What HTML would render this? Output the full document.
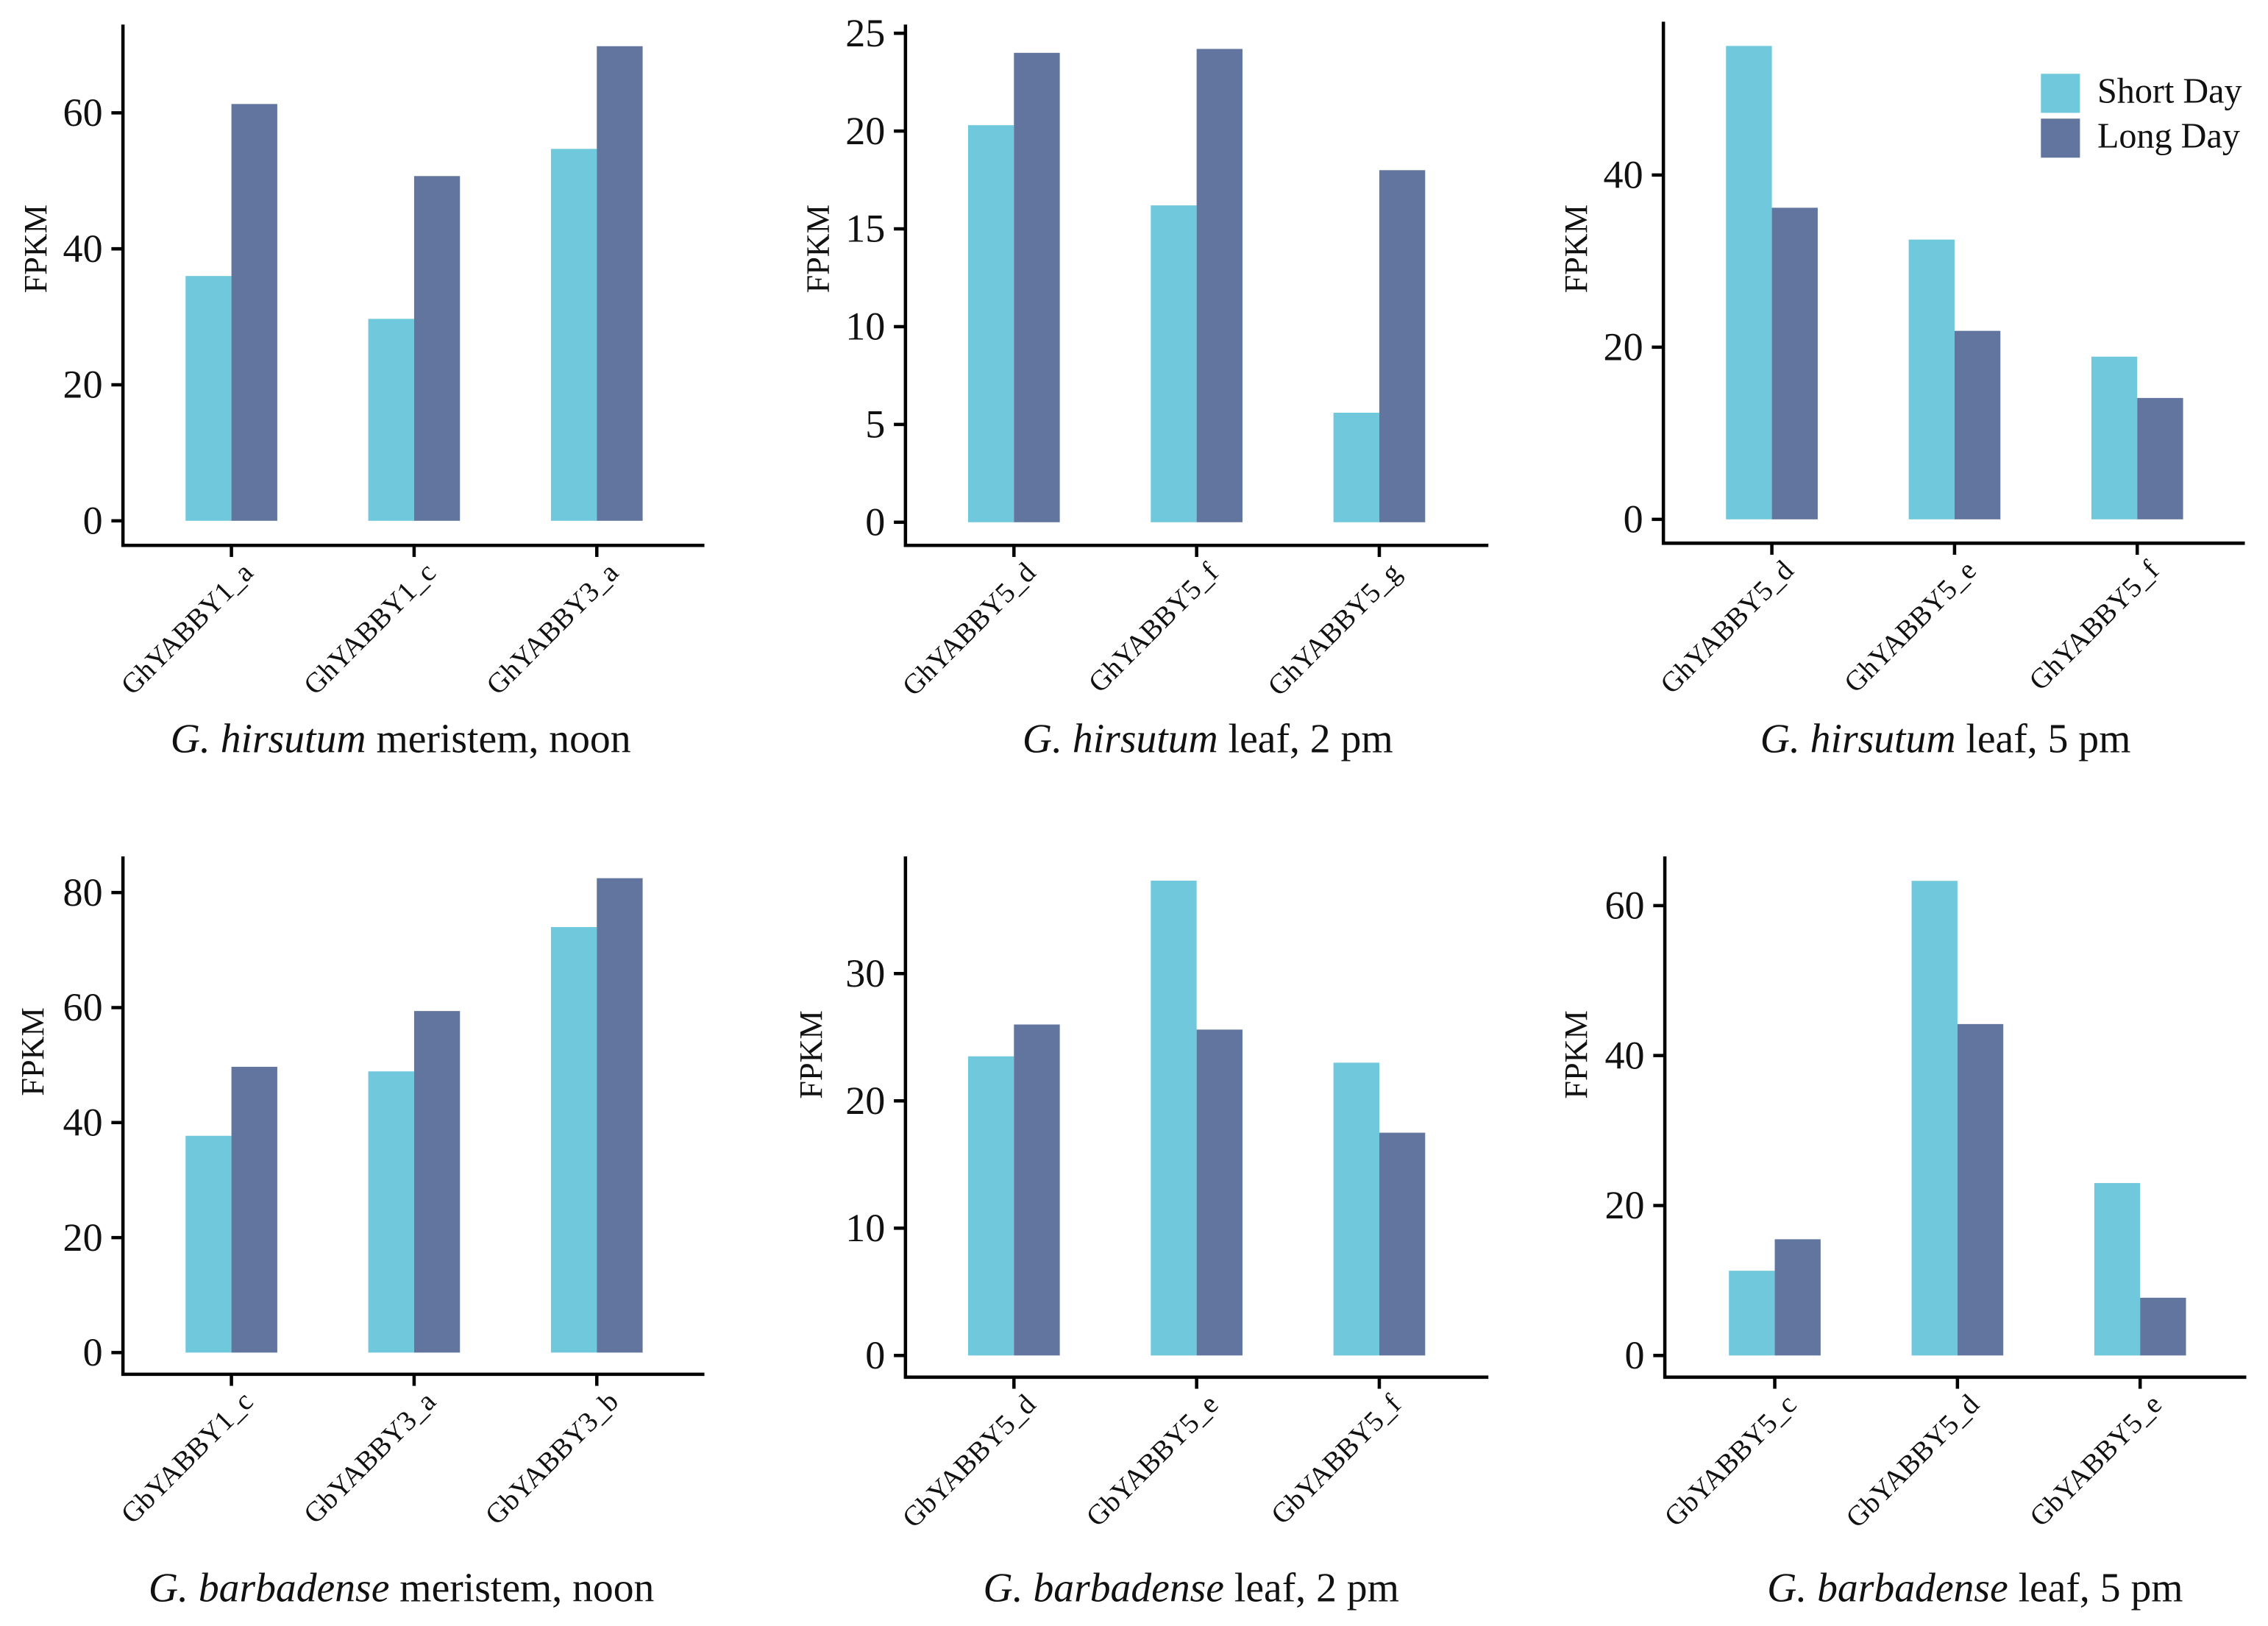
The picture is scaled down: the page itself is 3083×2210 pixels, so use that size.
<!DOCTYPE html>
<html lang="en">
<head>
<meta charset="utf-8">
<title>YABBY gene expression under short and long day</title>
<style>
html,body{margin:0;padding:0;background:#fff;}
svg{display:block;width:3083px;height:2210px;}
text{font-family:"Liberation Serif",serif;fill:#111;}
</style>
</head>
<body>
<svg id="fig" xmlns="http://www.w3.org/2000/svg" viewBox="0 0 1568 1124" width="3083" height="2210"></svg>
<script>
// Chart data
const categoriesA = ["GhYABBY1_a", "GhYABBY1_c", "GhYABBY3_a"];
const shortDayA = [36, 29.7, 54.7];
const longDayA = [61.3, 50.7, 69.8];
const ticksA = [0, 20, 40, 60];

const categoriesB = ["GhYABBY5_d", "GhYABBY5_f", "GhYABBY5_g"];
const shortDayB = [20.3, 16.2, 5.6];
const longDayB = [24, 24.2, 18];
const ticksB = [0, 5, 10, 15, 20, 25];

const categoriesC = ["GhYABBY5_d", "GhYABBY5_e", "GhYABBY5_f"];
const shortDayC = [55, 32.5, 18.9];
const longDayC = [36.2, 21.9, 14.1];
const ticksC = [0, 20, 40];

const categoriesD = ["GbYABBY1_c", "GbYABBY3_a", "GbYABBY3_b"];
const shortDayD = [37.7, 48.9, 74];
const longDayD = [49.7, 59.4, 82.5];
const ticksD = [0, 20, 40, 60, 80];

const categoriesE = ["GbYABBY5_d", "GbYABBY5_e", "GbYABBY5_f"];
const shortDayE = [23.5, 37.3, 23];
const longDayE = [26, 25.6, 17.5];
const ticksE = [0, 10, 20, 30];

const categoriesF = ["GbYABBY5_c", "GbYABBY5_d", "GbYABBY5_e"];
const shortDayF = [11.3, 63.3, 23];
const longDayF = [15.5, 44.2, 7.7];
const ticksF = [0, 20, 40, 60];

const legendLabels = ["Short Day", "Long Day"];
const SHORT_COLOR = "#70C8DD";
const LONG_COLOR = "#62759F";

const NS = "http://www.w3.org/2000/svg";
const svg = document.getElementById("fig");

function mk(tag, attrs, parent) {
  const el = document.createElementNS(NS, tag);
  for (const k in attrs) el.setAttribute(k, attrs[k]);
  parent.appendChild(el);
  return el;
}

const panels = [
  {id:"hirsutum-meristem", ital:"G. hirsutum", rest:" meristem, noon", cats:categoriesA, s:shortDayA, l:longDayA, ticks:ticksA,
   ax:85, first:75, top:17, bot:377, right:487, y0:360, yTop:78, tx:277, ty:520, lx:25, ly:172},
  {id:"hirsutum-leaf-2pm", ital:"G. hirsutum", rest:" leaf, 2 pm", cats:categoriesB, s:shortDayB, l:longDayB, ticks:ticksB,
   ax:626, first:75, top:17, bot:377, right:1029, y0:361, yTop:23, tx:835, ty:520, lx:566, ly:172},
  {id:"hirsutum-leaf-5pm", ital:"G. hirsutum", rest:" leaf, 5 pm", cats:categoriesC, s:shortDayC, l:longDayC, ticks:ticksC,
   ax:1150, first:75, top:15, bot:375.5, right:1552, y0:359, yTop:121, tx:1345, ty:520, lx:1090, ly:172},
  {id:"barbadense-meristem", ital:"G. barbadense", rest:" meristem, noon", cats:categoriesD, s:shortDayD, l:longDayD, ticks:ticksD,
   ax:85, first:75, top:592, bot:950, right:487, y0:935, yTop:617, tx:277.5, ty:1107, lx:23, ly:727},
  {id:"barbadense-leaf-2pm", ital:"G. barbadense", rest:" leaf, 2 pm", cats:categoriesE, s:shortDayE, l:longDayE, ticks:ticksE,
   ax:626, first:75, top:592, bot:952, right:1029, y0:937, yTop:673, tx:823.5, ty:1107, lx:561, ly:729},
  {id:"barbadense-leaf-5pm", ital:"G. barbadense", rest:" leaf, 5 pm", cats:categoriesF, s:shortDayF, l:longDayF, ticks:ticksF,
   ax:1151, first:76, top:592, bot:952, right:1553, y0:937, yTop:626, tx:1365.5, ty:1107, lx:1090, ly:729}
];

const STEP = 126.3, BAR = 31.7;

panels.forEach(function (p) {
  const g = mk("g", {}, svg);
  
  

  const maxTick = p.ticks[p.ticks.length - 1];
  const yScale = function (v) { return p.y0 - v * (p.y0 - p.yTop) / maxTick; };
  const xScale = function (i) { return p.ax + p.first + STEP * i; };

  p.cats.forEach(function (c, i) {
    const cx = xScale(i);
    const sb = mk("rect", {x:cx - BAR, y:yScale(p.s[i]), width:BAR, height:p.y0 - yScale(p.s[i]), fill:SHORT_COLOR}, g);
    
    
    const lb = mk("rect", {x:cx, y:yScale(p.l[i]), width:BAR, height:p.y0 - yScale(p.l[i]), fill:LONG_COLOR}, g);
    
    

    const t = mk("line", {x1:cx, x2:cx, y1:p.bot, y2:p.bot + 8, stroke:"#000", "stroke-width":2.3}, g);
    
    

    const lab = mk("text", {"text-anchor":"end", "font-size":19.7,
      transform:"translate(" + (cx + 16) + "," + (p.bot + 20) + ") rotate(-45)"}, g);
    lab.textContent = c;
    
    
  });

  const yAxis = mk("line", {x1:p.ax, x2:p.ax, y1:p.top, y2:p.bot + 1, stroke:"#000", "stroke-width":2.3}, g);
  
  
  const xAxis = mk("line", {x1:p.ax - 1, x2:p.right, y1:p.bot, y2:p.bot, stroke:"#000", "stroke-width":2.3}, g);
  
  

  p.ticks.forEach(function (v) {
    const y = yScale(v);
    const t = mk("line", {x1:p.ax - 8, x2:p.ax, y1:y, y2:y, stroke:"#000", "stroke-width":2.3}, g);
    
    
    const lab = mk("text", {x:p.ax - 14, y:y + 9, "text-anchor":"end", "font-size":27.5}, g);
    lab.textContent = v;
    
    
  });

  const yt = mk("text", {"text-anchor":"middle", "font-size":22.5,
    transform:"translate(" + (p.lx + 7) + "," + p.ly + ") rotate(-90)"}, g);
  yt.textContent = "FPKM";
  
  

  const title = mk("text", {x:p.tx, y:p.ty, "text-anchor":"middle", "font-size":28.3}, g);
  
  
  const it = mk("tspan", {"font-style":"italic"}, title);
  it.textContent = p.ital;
  const rs = mk("tspan", {}, title);
  rs.textContent = p.rest;
});

const legend = mk("g", {}, svg);


[SHORT_COLOR, LONG_COLOR].forEach(function (col, i) {
  const sw = mk("rect", {x:1411, y:51 + i * 31, width:27, height:27, fill:col}, legend);
  
  
  const tx = mk("text", {x:1450, y:71 + i * 31, "font-size":24.5}, legend);
  tx.textContent = legendLabels[i];
  
  
});
</script>
</body>
</html>
